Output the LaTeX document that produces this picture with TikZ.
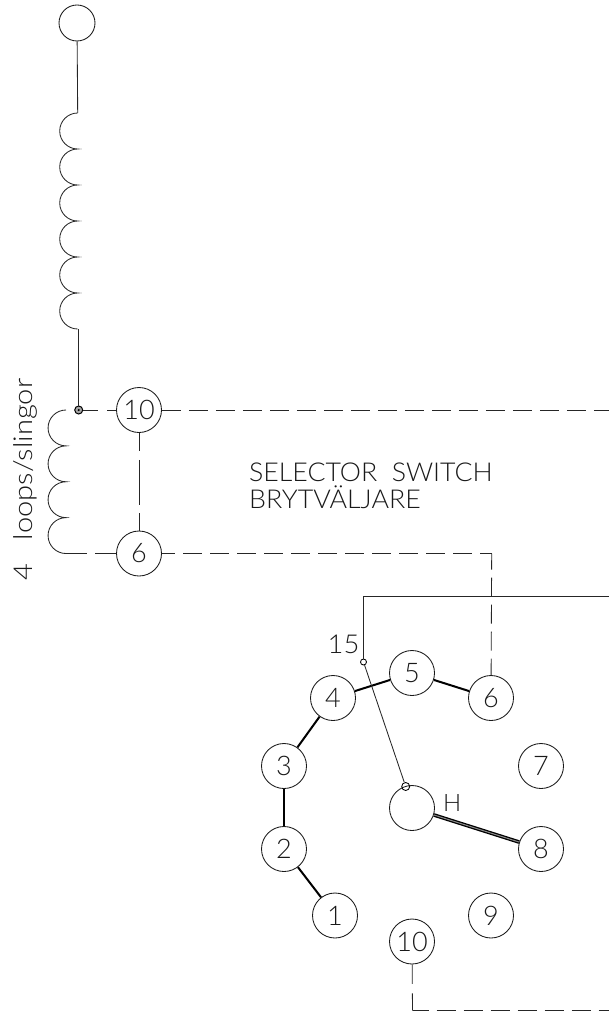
\documentclass[tikz,border=0pt]{standalone}
\usepackage{fontspec}
\setmainfont{Lato Light}
\begin{document}
\begin{tikzpicture}[x=1pt,y=-1pt,
  wire/.style={line width=0.85pt,black!85},
  dsh/.style={line width=0.85pt,black!85,dash pattern=on 19pt off 8pt},
  bus/.style={line width=2pt,black},
  term/.style={circle,draw,line width=0.85pt,minimum size=45pt,inner sep=0pt,font=\fontsize{27}{27}\selectfont,black!90},
  lab/.style={inner sep=0pt,font=\fontsize{26}{26}\selectfont,black!90},
  loop/.style={wire},
  pin/.style={circle,draw,line width=0.85pt,inner sep=0pt,minimum size=6pt}]
\useasboundingbox (0,0) rectangle (609,1011);
% top coil
\node[term,minimum size=36pt] (top) at (77,23) {};
\coordinate (c1) at (77.7,113);
\coordinate (c2) at (78.7,329);
\node[circle,draw,fill=black!35,line width=1pt,inner sep=0pt,minimum size=8pt] (j) at (78.7,410) {};
\fill[black] (j.center) circle[radius=1.2pt];
\draw[wire] (top) -- (c1);
\draw[loop] (c1) arc[start angle=-90,end angle=-270,radius=18]
  arc[start angle=-90,end angle=-270,radius=18]
  arc[start angle=-90,end angle=-270,radius=18]
  arc[start angle=-90,end angle=-270,radius=18]
  arc[start angle=-90,end angle=-270,radius=18]
  arc[start angle=-90,end angle=-270,radius=18];
\draw[wire,line width=1.1pt] (c2) -- (j);
% left coil
\node[term] (t10) at (139,410) {10};
\node[term] (t6) at (139,553.5) {6};
\coordinate (l1) at (66,410);
\coordinate (l2) at (66,553.5);
\draw[loop] (l1) arc[start angle=-90,end angle=-270,radius=17.94]
  arc[start angle=-90,end angle=-270,radius=17.94]
  arc[start angle=-90,end angle=-270,radius=17.94]
  arc[start angle=-90,end angle=-270,radius=17.94];
\draw[dsh,dash pattern=on 15pt off 9pt] (j) -- (t10);
\draw[dsh,dash pattern=on 21pt off 8pt] (l2) -- (t6);
\draw[dsh,dash pattern=on 18.5pt off 8.5pt on 45pt off 8.5pt] (t10) -- (t6);
% long dashed lines
\coordinate (er) at (609,410);
\draw[dsh] (t10) -- (er);
\node[term] (s6) at (491,698) {6};
\coordinate (k) at (491.7,553.5);
\draw[dsh,dash phase=5.5pt] (t6.east) -- (k);
\draw[dsh,dash phase=3pt] (k) -- (s6);
% switch
\node[term] (s1) at (335,915.5) {1};
\node[term] (s2) at (284,849) {2};
\node[term] (s3) at (284,766) {3};
\node[term] (s4) at (333,698) {4};
\node[term] (s5) at (412,673) {5};
\node[term] (s7) at (541,766) {7};
\node[term] (s8) at (541,849) {8};
\node[term] (s9) at (491,915.5) {9};
\node[term] (s10) at (412,941.5) {10};
\node[term] (h) at (412,808) {};
\draw[bus] (s1) -- (s2);
\draw[bus] (s2) -- (s3);
\draw[bus] (s3) -- (s4);
\draw[bus] (s4) -- (s5);
\draw[bus] (s5) -- (s6);
\draw[line width=1.3pt,black,double=black!45,double distance=1pt] (h) -- (s8);
% arm
\coordinate (er2) at (609,596.7);
\coordinate (n) at (363.5,596.7);
\node[pin] (p) at (363.5,662) {};
\node[pin,minimum size=8pt] (q) at (405.7,786.5) {};
\draw[wire,line width=1pt] (er2) -- (n) -- (p);
\draw[wire] (p) -- (q);
% bottom
\coordinate (b) at (412.5,1010.5);
\coordinate (br) at (609,1010.5);
\draw[dsh,dash pattern=on 19.5pt off 9.5pt on 100pt] (s10) -- (b);
\draw[dsh,dash phase=3pt] (b) -- (br);
% labels
\node[lab,anchor=base,xscale=1.05] (l15) at (343.5,653) {15};
\node[lab,anchor=base west,font=\fontsize{24}{24}\selectfont] (lh) at (443,811) {H};
\node[lab,anchor=base west,xscale=1.027] (title1) at (249,481) {SELECTOR\ \ SWITCH};
\node[lab,anchor=base west,xscale=1.03] (title2) at (249,508) {BRYTVÄLJARE};
\node[lab,anchor=base west,rotate=90] (side) at (32,581) {\scalebox{1.12}[1]{4\ \ \ loops/slingor}};
\end{tikzpicture}
\end{document}
